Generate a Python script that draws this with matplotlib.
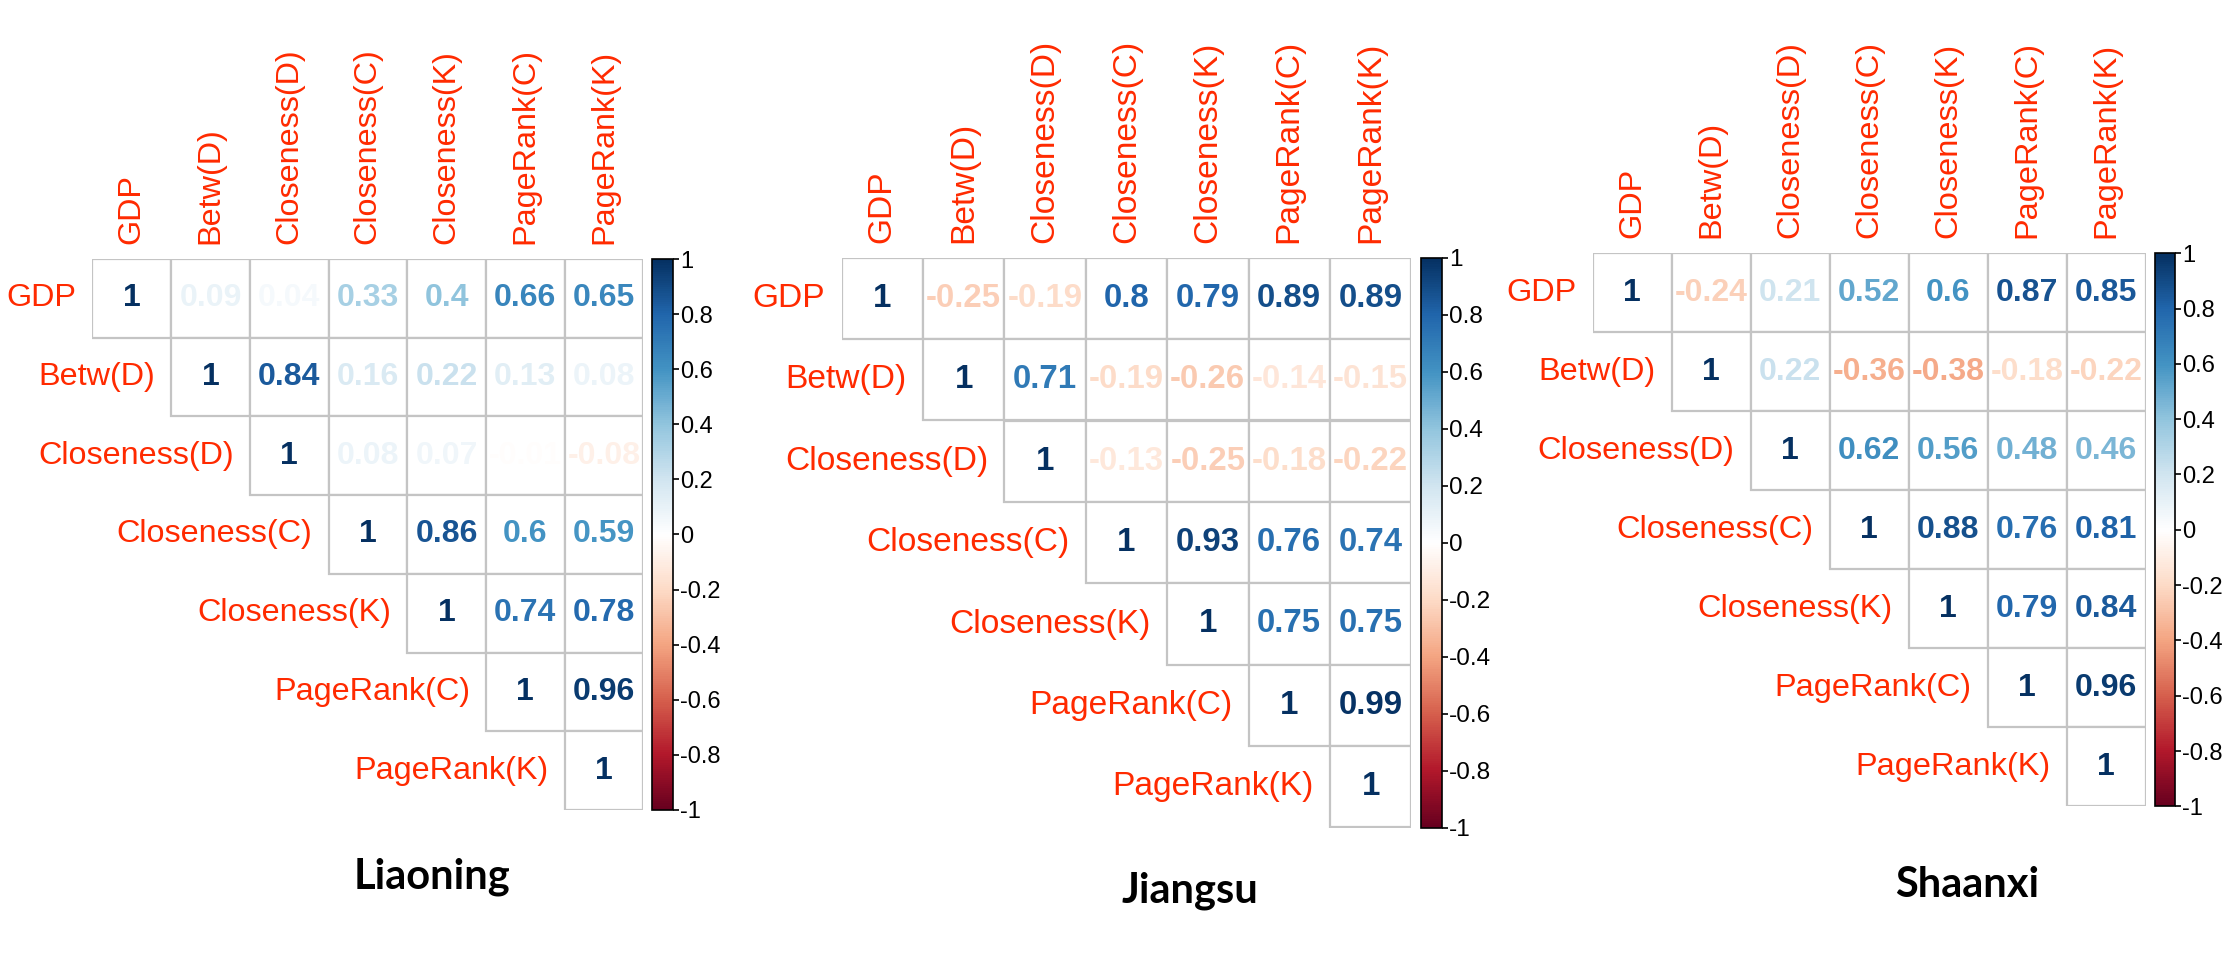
import numpy as np
import matplotlib
matplotlib.use("Agg")
import matplotlib.pyplot as plt
from matplotlib.colors import LinearSegmentedColormap, Normalize
from matplotlib.patches import Rectangle
from matplotlib.cm import ScalarMappable

# ---------------- data ----------------
labels = ["GDP", "Betw(D)", "Closeness(D)", "Closeness(C)",
          "Closeness(K)", "PageRank(C)", "PageRank(K)"]

# upper triangle rows (starting at the diagonal)
liaoning = [
    [1, 0.09, 0.04, 0.33, 0.4, 0.66, 0.65],
    [1, 0.84, 0.16, 0.22, 0.13, 0.08],
    [1, 0.08, 0.07, -0.01, -0.08],
    [1, 0.86, 0.6, 0.59],
    [1, 0.74, 0.78],
    [1, 0.96],
    [1],
]
jiangsu = [
    [1, -0.25, -0.19, 0.8, 0.79, 0.89, 0.89],
    [1, 0.71, -0.19, -0.26, -0.14, -0.15],
    [1, -0.13, -0.25, -0.18, -0.22],
    [1, 0.93, 0.76, 0.74],
    [1, 0.75, 0.75],
    [1, 0.99],
    [1],
]
shaanxi = [
    [1, -0.24, 0.21, 0.52, 0.6, 0.87, 0.85],
    [1, 0.22, -0.36, -0.38, -0.18, -0.22],
    [1, 0.62, 0.56, 0.48, 0.46],
    [1, 0.88, 0.76, 0.81],
    [1, 0.79, 0.84],
    [1, 0.96],
    [1],
]
titles = ["Liaoning", "Jiangsu", "Shaanxi"]
cbar_ticks = [-1, -0.8, -0.6, -0.4, -0.2, 0, 0.2, 0.4, 0.6, 0.8, 1]
cbar_ticklabels = ["-1", "-0.8", "-0.6", "-0.4", "-0.2", "0",
                   "0.2", "0.4", "0.6", "0.8", "1"]

# ---------------- style / layout ----------------
W, H = 2237, 960
rdbu = ["#67001F", "#B2182B", "#D6604D", "#F4A582", "#FDDBC7", "#FFFFFF",
        "#D1E5F0", "#92C5DE", "#4393C3", "#2166AC", "#053061"]
cmap = LinearSegmentedColormap.from_list("corr_rdbu", rdbu, N=256)
norm = Normalize(-1, 1)
label_color = "#FF2A00"
grid_color = "#C4C4C4"

# (grid_left_px, grid_top_px, cell_px, cbar_left_px, cbar_w_px, title_x_px, title_baseline_px)
layout = [
    (92.4, 259.0, 78.7, 652.0, 21.0, 432, 888),
    (841.5, 257.7, 81.4, 1421.0, 21.0, 1190, 902),
    (1592.7, 253.3, 79.0, 2154.5, 20.5, 1967, 897),
]

plt.rcParams["font.family"] = ["Liberation Sans", "DejaVu Sans"]
fig = plt.figure(figsize=(W / 100, H / 100), dpi=100)
fig.patch.set_facecolor("white")

panels = [liaoning, jiangsu, shaanxi]
n = len(labels)

for data, title, (gx, gy, cs, cbx, cbw, tx, tb) in zip(panels, titles, layout):
    sc = cs / 78.7
    size = cs * n
    ax = fig.add_axes([gx / W, 1 - (gy + size) / H, size / W, size / H])
    ax.set_xlim(0, n)
    ax.set_ylim(n, 0)
    ax.axis("off")

    for i, row in enumerate(data):
        for k, v in enumerate(row):
            j = i + k
            ax.add_patch(Rectangle((j, i), 1, 1, facecolor="white",
                                   edgecolor=grid_color, lw=1.6, zorder=1))
            ax.text(j + 0.5, i + 0.5, f"{v:g}", ha="center", va="center",
                    fontsize=23 * sc, fontweight="bold", color=cmap(norm(v)),
                    zorder=3)

    gap = 15.0 / cs
    for j, lab in enumerate(labels):
        # column labels (top, rotated)
        ax.text(j + 0.5, -gap, lab, rotation=90, ha="center", va="bottom",
                fontsize=23.3 * sc, color=label_color, clip_on=False)
        # row labels (left of each row's first cell)
        ax.text(j - 16.0 / cs, j + 0.5, lab, ha="right", va="center",
                fontsize=23.3 * sc, color=label_color, clip_on=False)

    # colorbar
    cax = fig.add_axes([cbx / W, 1 - (gy + size) / H, cbw / W, size / H])
    cb = fig.colorbar(ScalarMappable(norm=norm, cmap=cmap), cax=cax)
    cb.set_ticks(cbar_ticks)
    cb.set_ticklabels(cbar_ticklabels)
    cb.outline.set_linewidth(1.2)
    cb.outline.set_edgecolor("black")
    cax.tick_params(axis="y", length=4, width=1.2, pad=1, labelsize=17 * sc,
                    colors="black", direction="out")

    fig.text(tx / W, 1 - tb / H, title, ha="center", va="baseline",
             fontsize=30, fontweight="bold", family=["Lato", "DejaVu Sans"])

fig.savefig("out.png", dpi=100, facecolor="white")
